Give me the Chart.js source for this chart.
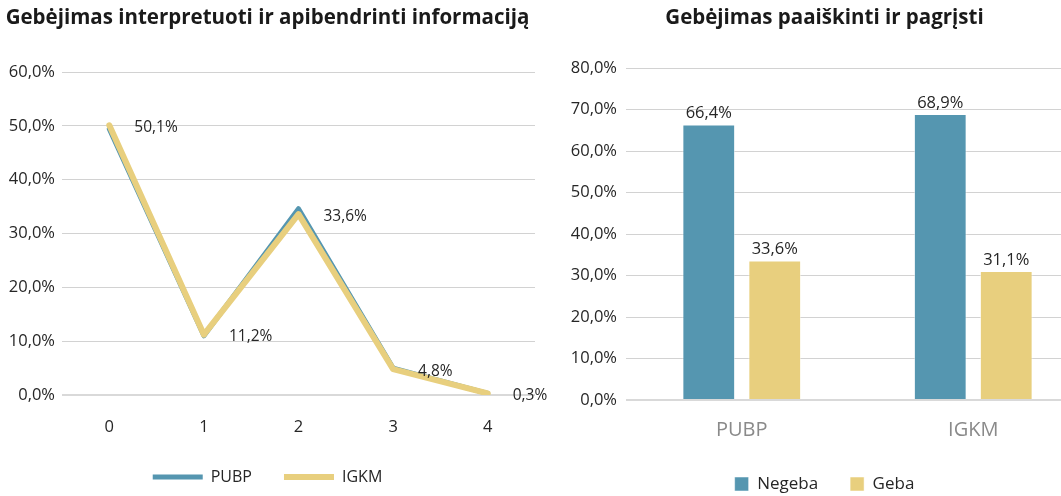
<!DOCTYPE html>
<html>
<head>
<meta charset="utf-8">
<script src="https://cdn.jsdelivr.net/npm/chart.js@4.4.1/dist/chart.umd.min.js"></script>
<style>
  html, body { margin: 0; padding: 0; background: #fff; overflow: hidden; width: 1061px; height: 496px; }
  #wrapL { position: absolute; left: 0; top: 0; width: 550px; height: 496px; }
  #wrapR { position: absolute; left: 560px; top: 0; width: 534px; height: 506px; }
</style>
</head>
<body>
<div id="wrapL"><canvas id="lineChart"></canvas></div>
<div id="wrapR"><canvas id="barChart"></canvas></div>
<script>
// ── Duomenys ──
const lineTitle = 'Gebėjimas interpretuoti ir apibendrinti informaciją';
const lineCategories = ['0', '1', '2', '3', '4'];
const pubpLine = [49.4, 11.0, 34.6, 5.0, 0.3];
const igkmLine = [50.1, 11.2, 33.6, 4.8, 0.3];
const lineMax = 60;

const barTitle = 'Gebėjimas paaiškinti ir pagrįsti';
const barCategories = ['PUBP', 'IGKM'];
const negebaBar = [66.4, 68.9];
const gebaBar = [33.6, 31.1];
const barMax = 80;

const tickStep = 10;

// ── Stilius ──
const BLUE = '#5596b0';
const YELLOW = '#e8cf7e';
const TEXT = '#262626';
const GRID = '#d2d2d2';
const FONT = "'Open Sans', sans-serif";

const fmt = v => v.toFixed(1).replace('.', ',') + '%';

const gridOpts = {
  color: ctx => ctx.tick && ctx.tick.value === 0 ? '#d9d9d9' : GRID,
  lineWidth: ctx => ctx.tick && ctx.tick.value === 0 ? 2 : 1,
  drawTicks: false
};

// linijos reikšmių etiketės (IGKM)
const lineLabels = {
  id: 'lineLabels',
  afterDatasetsDraw(chart) {
    const meta = chart.getDatasetMeta(1);
    const ctx = chart.ctx;
    ctx.save();
    ctx.font = '15.5px ' + FONT;
    ctx.fillStyle = TEXT;
    ctx.textAlign = 'left';
    ctx.textBaseline = 'middle';
    meta.data.forEach((pt, i) => {
      ctx.fillText(fmt(igkmLine[i]), pt.x + 25, pt.y + 2);
    });
    ctx.restore();
  }
};

// stulpelių reikšmių etiketės
const barLabels = {
  id: 'barLabels',
  afterDatasetsDraw(chart) {
    const ctx = chart.ctx;
    ctx.save();
    ctx.font = '16.5px ' + FONT;
    ctx.fillStyle = TEXT;
    ctx.textAlign = 'center';
    ctx.textBaseline = 'middle';
    chart.data.datasets.forEach((ds, di) => {
      chart.getDatasetMeta(di).data.forEach((bar, i) => {
        ctx.fillText(fmt(ds.data[i]), bar.x, bar.y - 11);
      });
    });
    ctx.restore();
  }
};

// ────────────────────────────────────────────
// 1. Linijinė diagrama
// ────────────────────────────────────────────
new Chart(document.getElementById('lineChart'), {
  type: 'line',
  data: {
    labels: lineCategories,
    datasets: [
      {
        label: 'PUBP',
        data: pubpLine,
        borderColor: BLUE,
        backgroundColor: BLUE,
        borderWidth: 5,
        borderCapStyle: 'round',
        borderJoinStyle: 'round',
        pointRadius: 0,
        tension: 0,
        order: 1
      },
      {
        label: 'IGKM',
        data: igkmLine,
        borderColor: YELLOW,
        backgroundColor: YELLOW,
        borderWidth: 6,
        borderCapStyle: 'round',
        borderJoinStyle: 'round',
        pointRadius: 0,
        tension: 0,
        order: 0
      }
    ]
  },
  options: {
    responsive: true,
    maintainAspectRatio: false,
    animation: false,
    layout: { padding: { left: 0, right: 15, top: 0, bottom: 1 } },
    scales: {
      x: {
        offset: true,
        grid: { display: false, drawTicks: false },
        border: { display: false },
        ticks: { color: TEXT, padding: 22, font: { size: 16.5, family: FONT } },
        afterFit(scale) { scale.height = 42; }
      },
      y: {
        min: 0,
        max: lineMax,
        grid: gridOpts,
        border: { display: false },
        ticks: {
          stepSize: tickStep,
          color: TEXT,
          padding: 7,
          font: { size: 16.5, family: FONT },
          callback: v => fmt(v)
        },
        afterFit(scale) { scale.width = 62; }
      }
    },
    plugins: {
      title: {
        display: true,
        text: lineTitle,
        color: '#1a1a1a',
        font: { size: 20.5, weight: 'bold', family: FONT, lineHeight: 1.2 },
        padding: { top: 6, bottom: 41.4 }
      },
      legend: {
        position: 'bottom',
        labels: {
          color: TEXT,
          usePointStyle: true,
          pointStyle: 'line',
          pointStyleWidth: 50,
          padding: 32,
          font: { size: 16, family: FONT },
          sort: (a, b) => a.datasetIndex - b.datasetIndex
        }
      },
      tooltip: { enabled: false }
    }
  },
  plugins: [lineLabels]
});

// ────────────────────────────────────────────
// 2. Stulpelinė diagrama
// ────────────────────────────────────────────
new Chart(document.getElementById('barChart'), {
  type: 'bar',
  data: {
    labels: barCategories,
    datasets: [
      {
        label: 'Negeba',
        data: negebaBar,
        backgroundColor: BLUE,
        borderColor: 'rgba(255,255,255,0.5)',
        borderWidth: 1,
        categoryPercentage: 0.57,
        barPercentage: 0.8
      },
      {
        label: 'Geba',
        data: gebaBar,
        backgroundColor: YELLOW,
        borderColor: 'rgba(255,255,255,0.5)',
        borderWidth: 1,
        categoryPercentage: 0.57,
        barPercentage: 0.8
      }
    ]
  },
  options: {
    responsive: true,
    maintainAspectRatio: false,
    animation: false,
    layout: { padding: { left: 0, right: 5, top: 0, bottom: 3.5 } },
    scales: {
      x: {
        grid: { display: false, drawTicks: false },
        border: { display: false },
        ticks: { color: '#8a8a8a', padding: 18, font: { size: 20, family: FONT } },
        afterFit(scale) { scale.height = 43.5; }
      },
      y: {
        min: 0,
        max: barMax,
        grid: gridOpts,
        border: { display: false },
        ticks: {
          stepSize: tickStep,
          color: TEXT,
          padding: 9,
          font: { size: 16.5, family: FONT },
          callback: v => fmt(v)
        },
        afterFit(scale) { scale.width = 66; }
      }
    },
    plugins: {
      title: {
        display: true,
        text: barTitle,
        color: '#1a1a1a',
        font: { size: 20.5, weight: 'bold', family: FONT, lineHeight: 1.2 },
        padding: { top: 6, bottom: 37.4 }
      },
      legend: {
        position: 'bottom',
        labels: {
          color: TEXT,
          boxWidth: 14,
          boxHeight: 14,
          padding: 32,
          font: { size: 17, family: FONT }
        }
      },
      tooltip: { enabled: false }
    }
  },
  plugins: [barLabels]
});
</script>
</body>
</html>
